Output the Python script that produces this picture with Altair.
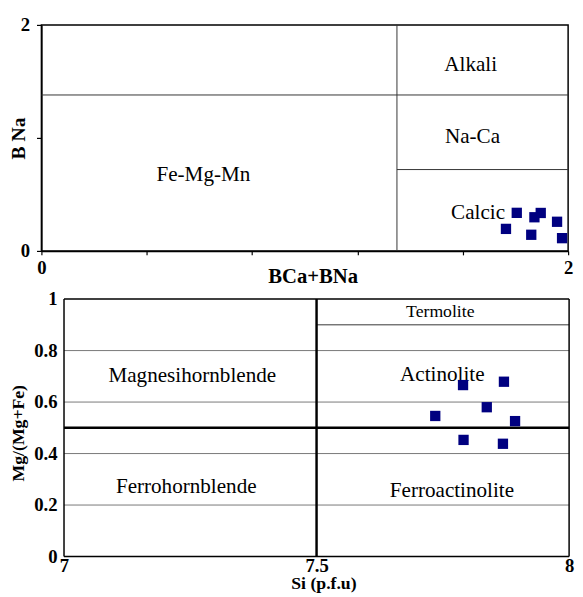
import altair as alt
import pandas as pd

SERIF = "Liberation Serif, Times New Roman, Times, DejaVu Serif, serif"

# ---------------- top diagram: BCa+BNa vs B Na ----------------
top_x = [1.805, 1.764, 1.860, 1.872, 1.896, 1.958, 1.977]
top_y = [0.337, 0.195, 0.143, 0.298, 0.336, 0.258, 0.113]

top_line_x1 = [0, 1.35, 1.35]
top_line_x2 = [2, 1.35, 2]
top_line_y1 = [1.38, 0, 0.72]
top_line_y2 = [1.38, 2, 0.72]

top_labels = ["Alkali", "Na-Ca", "Fe-Mg-Mn", "Calcic"]
top_label_x = [1.630, 1.637, 0.615, 1.658]
top_label_y = [1.645, 1.004, 0.667, 0.338]

top_ticks_x = [0, 0.4, 0.8, 1.2, 1.6, 2]
top_ticks_y = [0, 1, 2]

# ---------------- bottom diagram: Si vs Mg/(Mg+Fe) ----------------
bot_x = [7.790, 7.871, 7.837, 7.735, 7.893, 7.791, 7.869]
bot_y = [0.666, 0.679, 0.580, 0.546, 0.526, 0.453, 0.438]

grid_y = [0.2, 0.4, 0.6, 0.8]
frame_x1 = [7, 7, 7, 8]
frame_x2 = [8, 8, 7, 8]
frame_y1 = [0, 1, 0, 0]
frame_y2 = [0, 1, 1, 1]
main_x1 = [7.5, 7]
main_x2 = [7.5, 8]
main_y1 = [0, 0.5]
main_y2 = [1, 0.5]
term_x1 = [7.5]
term_x2 = [8]
term_y = [0.9]

bot_labels = ["Termolite", "Magnesihornblende", "Actinolite", "Ferrohornblende", "Ferroactinolite"]
bot_label_x = [7.745, 7.254, 7.749, 7.242, 7.768]
bot_label_y = [0.950, 0.701, 0.706, 0.269, 0.253]
bot_label_size = [18, 21.5, 21.5, 21.5, 21.5]

bot_ticks_x = [7, 7.5, 8]
bot_ticks_y = [0, 0.2, 0.4, 0.6, 0.8, 1]

PT_COLOR = "#000080"

# ---------------- top chart ----------------
W1, H1 = 536, 230
xs1 = alt.Scale(domain=[0, 2], nice=False, zero=False)
ys1 = alt.Scale(domain=[0, 2], nice=False, zero=False)
show_ends = "datum.value == 0 || datum.value == 2 ? datum.label : ''"

xax1 = alt.Axis(values=top_ticks_x, format="~g", labelExpr=show_ends, title="BCa+BNa",
                grid=False, domainColor="black", domainWidth=1.5, tickColor="black",
                tickSize=4, tickWidth=1.2, labelFont=SERIF, labelFontWeight="bold",
                labelFontSize=19, labelColor="black", labelBaseline="alphabetic",
                labelPadding=19, labelFlush=False, titleFont=SERIF, titleFontSize=21,
                titleFontWeight="bold", titleColor="black", titleX=276, titleY=32,
                titleBaseline="alphabetic", titleAlign="center", titleAngle=0)
yax1 = alt.Axis(values=top_ticks_y, format="~g", labelExpr=show_ends, title="B Na",
                grid=False, domainColor="black", domainWidth=1.5, tickColor="black",
                tickSize=5, tickWidth=1.2, labelFont=SERIF, labelFontWeight="bold",
                labelFontSize=19, labelColor="black", labelBaseline="middle",
                labelPadding=7, titleFont=SERIF, titleFontSize=20, titleFontWeight="bold",
                titleColor="black", titleX=-17, titleY=115, titleAngle=270,
                titleBaseline="alphabetic", titleAlign="center")

top_lines = pd.DataFrame({"x": top_line_x1, "x2": top_line_x2, "y": top_line_y1, "y2": top_line_y2})
top_text = pd.DataFrame({"x": top_label_x, "y": top_label_y, "t": top_labels})
top_pts = pd.DataFrame({"x": top_x, "y": top_y})

t_lines = alt.Chart(top_lines).mark_rule(color="#333333", strokeWidth=1).encode(
    x=alt.X("x:Q", scale=xs1, axis=xax1), x2="x2:Q",
    y=alt.Y("y:Q", scale=ys1, axis=yax1), y2="y2:Q")
t_text = alt.Chart(top_text).mark_text(font=SERIF, fontSize=21.5, color="black",
                                       align="center", baseline="middle").encode(
    x=alt.X("x:Q", scale=xs1, axis=xax1), y=alt.Y("y:Q", scale=ys1, axis=yax1), text="t:N")
t_pts = alt.Chart(top_pts).mark_point(shape="square", filled=True, size=110,
                                      color=PT_COLOR, opacity=1).encode(
    x=alt.X("x:Q", scale=xs1, axis=xax1), y=alt.Y("y:Q", scale=ys1, axis=yax1))

top = alt.layer(t_lines, t_text, t_pts).properties(
    width=W1, height=H1,
    view=alt.ViewBackground(stroke="black", strokeWidth=1.5))

# ---------------- bottom chart ----------------
# view starts 23 px left of x=7 so that both panels share the same origin
W2, H2 = 537, 262
SHIFT = 23 / 514
xs2 = alt.Scale(domain=[7 - SHIFT, 8], nice=False, zero=False)
ys2 = alt.Scale(domain=[0, 1], nice=False, zero=False)

xax2 = alt.Axis(values=bot_ticks_x, format="~g", title="Si (p.f.u)", grid=False,
                domain=False, ticks=False, tickSize=0, labelFont=SERIF,
                labelFontWeight="bold", labelFontSize=19, labelColor="black",
                labelBaseline="alphabetic", labelPadding=15, labelFlush=False,
                titleFont=SERIF, titleFontSize=18, titleFontWeight="bold",
                titleColor="black", titleX=287, titleY=33, titleBaseline="alphabetic",
                titleAlign="center", titleAngle=0)
yax2 = alt.Axis(values=bot_ticks_y, format="~g", title="Mg/(Mg+Fe)", grid=False,
                domain=False, ticks=False, tickSize=0, offset=-23, labelFont=SERIF,
                labelFontWeight="bold", labelFontSize=19, labelColor="black",
                labelBaseline="middle", labelPadding=7, titleFont=SERIF,
                titleFontSize=18, titleFontWeight="bold", titleColor="black",
                titleX=-41, titleY=136, titleAngle=270, titleBaseline="alphabetic",
                titleAlign="center")

grid_df = pd.DataFrame({"x": [7] * len(grid_y), "x2": [8] * len(grid_y), "y": grid_y, "y2": grid_y})
term_df = pd.DataFrame({"x": term_x1, "x2": term_x2, "y": term_y, "y2": term_y})
frame_df = pd.DataFrame({"x": frame_x1, "x2": frame_x2, "y": frame_y1, "y2": frame_y2})
main_df = pd.DataFrame({"x": main_x1, "x2": main_x2, "y": main_y1, "y2": main_y2})
bot_text = pd.DataFrame({"x": bot_label_x, "y": bot_label_y, "t": bot_labels, "s": bot_label_size})
bot_pts = pd.DataFrame({"x": bot_x, "y": bot_y})


def rules(df, color, width):
    return alt.Chart(df).mark_rule(color=color, strokeWidth=width).encode(
        x=alt.X("x:Q", scale=xs2, axis=xax2), x2="x2:Q",
        y=alt.Y("y:Q", scale=ys2, axis=yax2), y2="y2:Q")


b_grid = rules(grid_df, "#777777", 1)
b_term = rules(term_df, "#333333", 1)
b_frame = rules(frame_df, "black", 1.5)
b_main = rules(main_df, "black", 2.5)
b_text = alt.Chart(bot_text).mark_text(font=SERIF, color="black", align="center",
                                       baseline="middle").encode(
    x=alt.X("x:Q", scale=xs2, axis=xax2), y=alt.Y("y:Q", scale=ys2, axis=yax2),
    text="t:N", size=alt.Size("s:Q", scale=None, legend=None))
b_pts = alt.Chart(bot_pts).mark_point(shape="square", filled=True, size=110,
                                      color=PT_COLOR, opacity=1).encode(
    x=alt.X("x:Q", scale=xs2, axis=xax2), y=alt.Y("y:Q", scale=ys2, axis=yax2))

bottom = alt.layer(b_grid, b_term, b_frame, b_main, b_text, b_pts).properties(
    width=W2, height=H2,
    view=alt.ViewBackground(stroke="transparent"))

chart = alt.vconcat(top, bottom, spacing=49, bounds="flush").properties(
    padding={"left": 0, "top": 2, "right": 0, "bottom": 0},
    background="white")

chart.save("out.html", embed_options={"renderer": "svg", "actions": False})
